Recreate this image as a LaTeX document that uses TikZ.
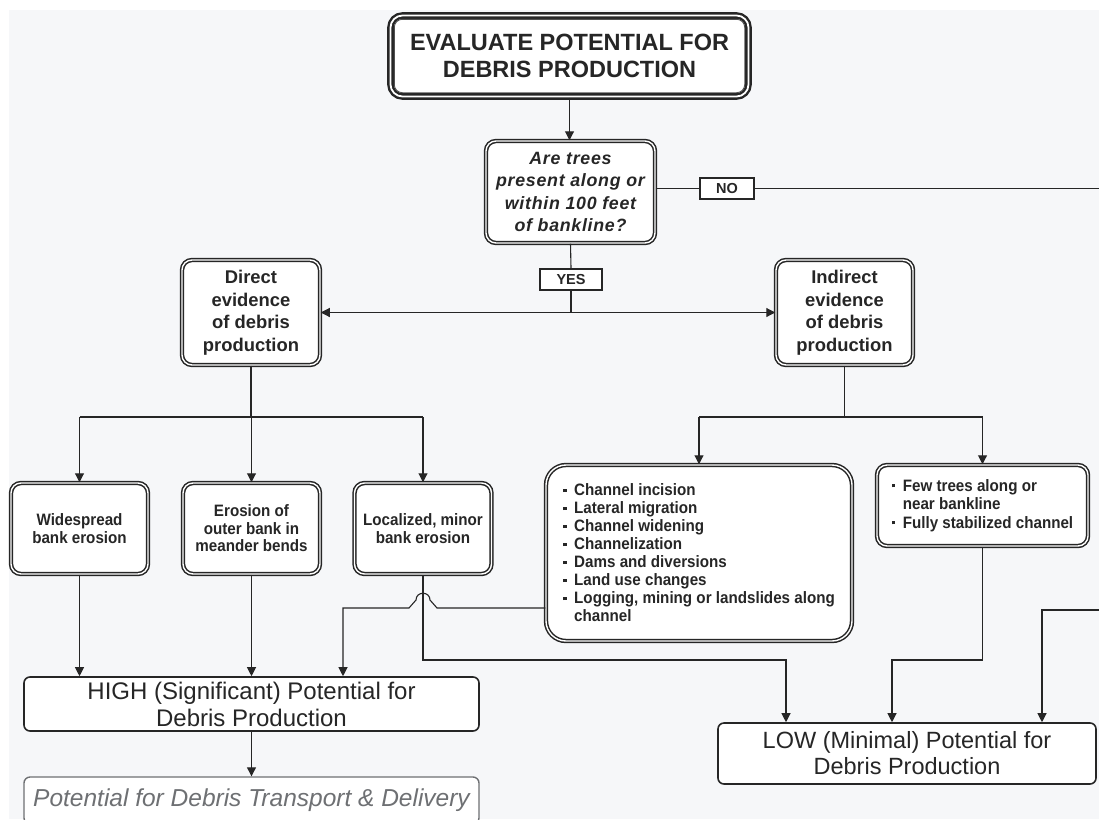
\documentclass[tikz,border=0pt]{standalone}
\usepackage{fontspec}
\setmainfont{Liberation Sans}
\newfontfamily\qfont[LetterSpace=4]{Liberation Sans}
\newfontfamily\narrowfont[FakeStretch=0.92]{Liberation Sans}
\usetikzlibrary{arrows.meta}
\definecolor{bg}{HTML}{F6F7F9}
\definecolor{ink}{HTML}{262626}
\definecolor{pale}{HTML}{6E7073}
% square bullet for the lists
\newcommand\sqbul{\makebox[11pt][l]{\raisebox{3.8pt}{\rule{3.3pt}{3.3pt}}}}
\begin{document}
\begin{tikzpicture}[x=1pt,y=-1pt,
  every node/.style={inner sep=0pt, align=center, text=ink},
  topbox/.style={draw=ink, double=white, line width=2.4pt, double distance=1.8pt,
    fill=white, rounded corners=12pt},
  dbox/.style={draw=ink, double=white, line width=1.5pt, double distance=1.4pt,
    fill=white, rounded corners=10pt},
  endbox/.style={draw=ink, line width=1.6pt, fill=white, rounded corners=6pt},
  tag/.style={draw=ink, line width=1.8pt, fill=white,
    font=\fontsize{14.5}{16}\selectfont\bfseries},
  conn/.style={draw=ink, line width=1.1pt},
  arr/.style={conn, -{Triangle[length=9pt,width=9pt]}},
  small/.style={font=\narrowfont\fontsize{16.5}{17.5}\selectfont\bfseries},
  mid/.style={font=\fontsize{18.4}{22.5}\selectfont\bfseries},
  big/.style={font=\fontsize{24}{27}\selectfont}]

\useasboundingbox (0,0) rectangle (1099,819);
\clip (0,0) rectangle (1099,819);
\fill[white] (0,0) rectangle (1099,819);
\fill[bg] (9,10) rectangle (1099,819);

% title and question
\node[topbox, minimum width=358pt, minimum height=81pt,
  font=\fontsize{23.5}{27.5}\selectfont\bfseries] (top) at (569.5,56)
  {EVALUATE POTENTIAL FOR\\DEBRIS PRODUCTION};
\draw[ink!80, line width=0.9pt, rounded corners=8pt]
  ([shift={(5,5)}]top.north west) rectangle ([shift={(-5,-5)}]top.south east);

\node[dbox, minimum width=169pt, minimum height=102pt,
  font=\qfont\fontsize{17.8}{22.5}\selectfont\bfseries\itshape] (q) at (570.5,192)
  {Are trees\\present along or\\within 100 feet\\of bankline?};

\node[tag, minimum width=54pt, minimum height=21pt] (no) at (727,188.5) {NO};
\node[tag, minimum width=62pt, minimum height=21pt] (yes) at (571,279.5) {YES};

% evidence boxes
\node[dbox, mid, minimum width=138pt, minimum height=105pt] (dir) at (251,312.5)
  {Direct\\evidence\\of debris\\production};
\node[dbox, mid, minimum width=137pt, minimum height=105pt] (ind) at (844.5,312.5)
  {Indirect\\evidence\\of debris\\production};

% direct evidence outcomes
\node[dbox, small, minimum width=137pt, minimum height=91pt] (wide) at (79.5,528.5)
  {Widespread\\bank erosion};
\node[dbox, small, minimum width=137pt, minimum height=91pt] (ero) at (251.5,528.5)
  {Erosion of\\outer bank in\\meander bends};
\node[dbox, small, minimum width=137pt, minimum height=91pt] (loc) at (423,528.5)
  {Localized, minor\\bank erosion};

% indirect evidence outcomes
\node[dbox, font=\narrowfont\fontsize{16.5}{18}\selectfont\bfseries, align=left,
  rounded corners=20pt, minimum width=306pt, minimum height=176pt] (bul) at (699,553)
  {\sqbul Channel incision\\\sqbul Lateral migration\\\sqbul Channel widening\\
   \sqbul Channelization\\\sqbul Dams and diversions\\\sqbul Land use changes\\
   \sqbul Logging, mining or landslides along\\\hspace*{11pt}channel};
\node[dbox, font=\narrowfont\fontsize{16.5}{18.5}\selectfont\bfseries, align=left,
  minimum width=211pt, minimum height=81pt] (few) at (982.5,505.5)
  {\sqbul Few trees along or\\\hspace*{11pt}near bankline\\\sqbul Fully stabilized channel};

% results
\node[endbox, big, minimum width=455pt, minimum height=54pt] (high) at (251.5,704)
  {HIGH (Significant) Potential for\\Debris Production};
\node[endbox, big, minimum width=378pt, minimum height=61pt,
  font=\fontsize{23.5}{26}\selectfont] (low) at (907,753.5)
  {LOW (Minimal) Potential for\\Debris Production};
\node[draw=pale, line width=1.4pt, fill=white, rounded corners=6pt,
  minimum width=455pt, minimum height=47pt, text=pale,
  font=\fontsize{24.5}{27}\selectfont\itshape] (pot) at (251.5,800.5)
  {Potential for Debris Transport \& Delivery};

% bend points
\coordinate (jy) at (571,312.5);
\coordinate (ds) at (251,417);
\coordinate (is) at (844.5,417);
\coordinate (hop) at (423,608);
\coordinate (hl) at (343,608);
\coordinate (lb) at (423,660);
\coordinate (la) at (786,660);
\coordinate (fb) at (982.5,660);
\coordinate (fa) at (892,660);
\coordinate (noend) at (1100,188.5);
\coordinate (rin) at (1100,610);
\coordinate (ra) at (1042,610);

% connectors
\draw[arr] (top.south) -- (top.south |- q.north);
\draw[conn] (q.east |- no.west) -- (no.west);
\draw[conn] (no.east) -- (noend);
\draw[conn] (q.south) -- (yes.north);
\draw[conn] (yes.south) -- (jy);
\draw[arr] (jy) -- (dir.east);
\draw[arr] (jy) -- (ind.west);

\draw[conn] (dir.south) -- (ds);
\draw[conn] (wide.north |- ds) -- (loc.north |- ds);
\draw[arr] (wide.north |- ds) -- (wide.north);
\draw[arr] (ero.north |- ds) -- (ero.north);
\draw[arr] (loc.north |- ds) -- (loc.north);

\draw[conn] (ind.south) -- (is);
\draw[conn] (bul.north |- is) -- (few.north |- is);
\draw[arr] (bul.north |- is) -- (bul.north);
\draw[arr] (few.north |- is) -- (few.north);

\draw[arr] (wide.south) -- (wide.south |- high.north);
\draw[arr] (ero.south) -- (ero.south |- high.north);
\draw[arr] (bul.west |- hop) -- (437,608) -- (430,600)
  .. controls (430,591) and (416,591) .. (416,600) -- (409,608)
  -- (hl) -- (hl |- high.north);
\draw[arr] (loc.south) -- (lb) -- (la) -- (la |- low.north);
\draw[arr] (few.south) -- (fb) -- (fa) -- (fa |- low.north);
\draw[arr] (rin) -- (ra) -- (ra |- low.north);
\draw[arr] (high.south) -- (pot.north);
\end{tikzpicture}
\end{document}
